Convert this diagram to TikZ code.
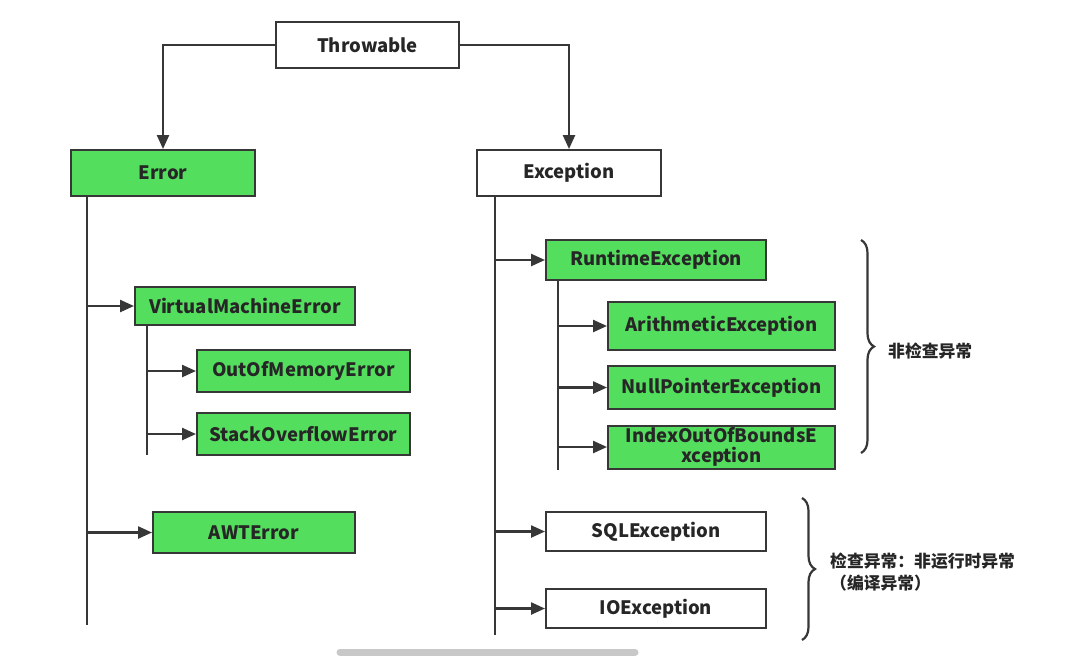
\documentclass[tikz,border=0pt]{standalone}
\usepackage{fontspec}
\setmainfont{Noto Sans CJK SC}
\usetikzlibrary{arrows.meta,decorations.pathreplacing}

\definecolor{boxgreen}{RGB}{84,222,94}
\definecolor{linegray}{RGB}{55,55,55}
\definecolor{textgray}{RGB}{38,38,38}
\definecolor{scrollgray}{RGB}{200,200,200}

\tikzset{
  box/.style={draw=linegray, line width=2pt, inner sep=0pt, text=textgray,
              font=\fontsize{18.5}{20}\selectfont\bfseries},
  gbox/.style={box, fill=boxgreen},
  wbox/.style={box, fill=white},
  link/.style={draw=linegray, line width=2.4pt, -{Triangle[length=14pt,width=12pt]}},
  trunk/.style={draw=linegray, line width=2.4pt},
  brc/.style={decorate, decoration={brace, amplitude=13pt}, draw=linegray, line width=2.2pt},
  note/.style={text=textgray, font=\fontsize{16.8}{22}\selectfont\bfseries, inner sep=0pt},
}

\begin{document}
\begin{tikzpicture}[x=1pt, y=-1pt]
        \useasboundingbox[fill=white] (0,0) rectangle (1091,657);
        % top
        \node[wbox, minimum width=183pt, minimum height=46pt] (throwable) at (367.5,45) {Throwable};
        \node[gbox, minimum width=184pt, minimum height=46pt] (error) at (163,173) {Error};
        \node[wbox, minimum width=184pt, minimum height=46pt] (exception) at (569,173) {Exception};
        \draw[link] (throwable.west) -| (error.north);
        \draw[link] (throwable.east) -| (exception.north);

        % Error side
        \node[gbox, minimum width=220pt, minimum height=38pt] (vme) at (245,306) {VirtualMachineError};
        \node[gbox, minimum width=213pt, minimum height=42pt] (oom) at (303.5,371) {OutOfMemoryError};
        \node[gbox, minimum width=213pt, minimum height=42pt] (soe) at (303.5,434) {StackOverflowError};
        \node[gbox, minimum width=202pt, minimum height=41pt] (awt) at (254,532.5) {AWTError};
        \coordinate (errEnd) at (87,625);
        \coordinate (vmeEnd) at (147,455);
        \draw[trunk] (error.south -| errEnd) -- (errEnd);
        \draw[trunk] (vme.south -| vmeEnd) -- (vmeEnd);
        \foreach \n in {vme,awt}
                \draw[link] (errEnd |- \n) -- (\n);
        \foreach \n in {oom,soe}
                \draw[link] (vmeEnd |- \n) -- (\n);

        % Exception side
        \node[gbox, minimum width=220pt, minimum height=40pt] (runtime) at (656,260) {RuntimeException};
        \node[gbox, minimum width=227pt, minimum height=48pt] (arith) at (721.5,326) {ArithmeticException};
        \node[gbox, minimum width=227pt, minimum height=43pt] (npe) at (721.5,387.5) {NullPointerException};
        \node[gbox, minimum width=227pt, minimum height=43pt, align=center,
              font=\fontsize{18.5}{20}\selectfont\bfseries] (ioob) at (721.5,447) {IndexOutOfBoundsE\\xception};
        \node[wbox, minimum width=220pt, minimum height=39pt] (sql) at (656,531.5) {SQLException};
        \node[wbox, minimum width=220pt, minimum height=39pt] (io) at (656,608.5) {IOException};
        \coordinate (excEnd) at (495,635);
        \coordinate (rtEnd) at (558,470);
        \draw[trunk] (exception.south -| excEnd) -- (excEnd);
        \draw[trunk] (runtime.south -| rtEnd) -- (rtEnd);
        \foreach \n in {runtime,sql,io}
                \draw[link] (excEnd |- \n) -- (\n);
        \foreach \n in {arith,npe,ioob}
                \draw[link] (rtEnd |- \n) -- (\n);

        % braces
        \draw[brc] (861,240) -- (861,453);
        \node[note, anchor=west] (unchecked) at (888,351) {非检查异常};
        \draw[brc] (802,498) -- (802,640);
        \node[note, anchor=west, align=left] (checked) at (830,572) {检查异常：非运行时异常\\（编译异常）};

        % scroll bar
        \draw[scrollgray, line width=7pt, line cap=round] (340,652) -- (635,652);
\end{tikzpicture}
\end{document}
